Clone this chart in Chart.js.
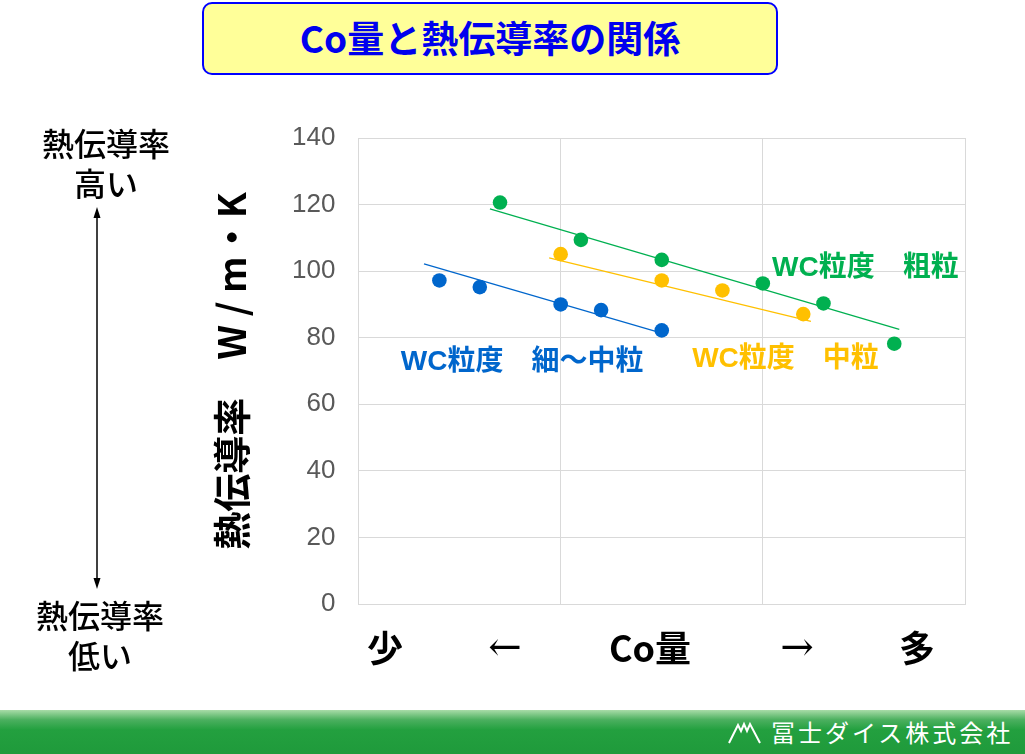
<!DOCTYPE html>
<html lang="ja">
<head>
<meta charset="utf-8">
<title>Co量と熱伝導率の関係</title>
<script src="https://cdn.jsdelivr.net/npm/chart.js@4.4.1/dist/chart.umd.min.js"></script>
<style>
  html, body {
    margin: 0;
    padding: 0;
    width: 1025px;
    height: 754px;
    overflow: hidden;
    background: #ffffff;
    font-family: "Liberation Sans", "Noto Sans CJK JP", sans-serif;
  }
  #chartBox {
    position: absolute;
    left: 0;
    top: 0;
    width: 1025px;
    height: 700px;
  }
  .titleBox {
    position: absolute;
    left: 202px;
    top: 2px;
    width: 576px;
    height: 73px;
    box-sizing: border-box;
    border: 2px solid #0000ff;
    border-radius: 10px;
    background: #ffff99;
    color: #0000ee;
    font-family: "Noto Sans CJK JP", sans-serif;
    font-weight: bold;
    font-size: 37px;
    line-height: 67px;
    text-align: center;
  }
  .side {
    position: absolute;
    width: 200px;
    text-align: center;
    font-family: "Noto Sans CJK JP", sans-serif;
    font-weight: 500;
    font-size: 32px;
    line-height: 40px;
    color: #000000;
  }
  .bottomLabel {
    position: absolute;
    top: 622px;
    transform: translateX(-50%);
    font-family: "Noto Sans CJK JP", sans-serif;
    font-weight: bold;
    font-size: 36px;
    line-height: 48px;
    color: #000000;
    white-space: nowrap;
  }
  .bottomLabel.arrow {
    font-family: "DejaVu Serif", serif;
    font-weight: normal;
    font-size: 40px;
  }
  .footer {
    position: absolute;
    left: 0;
    top: 710px;
    width: 1025px;
    height: 44px;
    background: linear-gradient(to bottom, #a8dca8 0%, #4cb060 22%, #23a03f 45%, #1f9a3b 100%);
  }
  .footer .company {
    position: absolute;
    left: 771px;
    top: 4px;
    font-family: "Noto Sans CJK JP", sans-serif;
    font-size: 24px;
    line-height: 36px;
    letter-spacing: 3px;
    color: #ffffff;
    white-space: nowrap;
  }
  svg.overlay {
    position: absolute;
    left: 0;
    top: 0;
    pointer-events: none;
  }
</style>
</head>
<body>

<div id="chartBox"><canvas id="coChart"></canvas></div>

<div class="titleBox">Co量と熱伝導率の関係</div>

<div class="side" style="left:6px; top:122px;">熱伝導率<br>高い</div>
<div class="side" style="left:0px; top:594px;">熱伝導率<br>低い</div>

<svg class="overlay" width="200" height="700">
  <line x1="97" y1="214" x2="97" y2="582" stroke="#000" stroke-width="1.5"/>
  <polygon points="97,207 93.5,218 100.5,218" fill="#000"/>
  <polygon points="97,589 93.5,578 100.5,578" fill="#000"/>
</svg>

<span class="bottomLabel" style="left:385px;">少</span>
<span class="bottomLabel arrow" style="left:505px;">←</span>
<span class="bottomLabel" style="left:650px;">Co量</span>
<span class="bottomLabel arrow" style="left:797px;">→</span>
<span class="bottomLabel" style="left:917px;">多</span>

<div class="footer">
  <svg class="overlay" width="1025" height="44">
    <polyline points="729,33 738,15 741,21 744,14 747,21 750,14 760,33"
      fill="none" stroke="#ffffff" stroke-width="2" stroke-linejoin="miter"/>
  </svg>
  <span class="company">冨士ダイス株式会社</span>
</div>

<script>
// Co amount (relative, 少 → 多) and thermal conductivity W/m・K
const seriesNames = ["WC粒度　細～中粒", "WC粒度　中粒", "WC粒度　粗粒"];
const seriesColors = ["#0066cc", "#ffc000", "#00b050"];

const fineCo = [0.4, 0.6, 1.0, 1.2, 1.5];
const fineK = [97.2, 95.2, 90.0, 88.3, 82.2];

const mediumCo = [1.0, 1.5, 1.8, 2.2];
const mediumK = [105.1, 97.2, 94.2, 87.1];

const coarseCo = [0.7, 1.1, 1.5, 2.0, 2.3, 2.65];
const coarseK = [120.6, 109.4, 103.4, 96.3, 90.3, 78.2];

// trend line end points
const fineTrendCo = [0.324, 1.5];
const fineTrendK = [102.2, 81.4];
const mediumTrendCo = [0.943, 2.238];
const mediumTrendK = [104.0, 84.9];
const coarseTrendCo = [0.65, 2.675];
const coarseTrendK = [118.7, 82.5];

const xTicks = [0, 1, 2, 3];
const yTicks = [0, 20, 40, 60, 80, 100, 120, 140];

const yTitle = "熱伝導率　W / m・K";

function toPoints(xs, ys) {
  return xs.map((x, i) => ({ x: x, y: ys[i] }));
}

function pointSet(label, xs, ys, color) {
  return {
    label: label,
    data: toPoints(xs, ys),
    showLine: false,
    pointRadius: 7.3,
    pointHoverRadius: 7.3,
    pointBorderWidth: 0,
    pointBackgroundColor: color,
    borderColor: color,
    order: 0,
  };
}

function trendSet(xs, ys, color) {
  return {
    label: "",
    data: toPoints(xs, ys),
    showLine: true,
    pointRadius: 0,
    borderWidth: 1.2,
    borderColor: color,
    fill: false,
    order: 1,
  };
}

// series names written inside the plot, anchored in data units
const seriesTags = {
  id: "seriesTags",
  afterDatasetsDraw(chart, args, opts) {
    const ctx = chart.ctx;
    const xs = chart.scales.x;
    const ys = chart.scales.y;
    ctx.save();
    ctx.font = opts.font;
    ctx.textAlign = "center";
    ctx.textBaseline = "middle";
    opts.items.forEach((item) => {
      ctx.fillStyle = item.color;
      ctx.fillText(item.text, xs.getPixelForValue(item.x), ys.getPixelForValue(item.y));
    });
    ctx.restore();
  },
};

const ctx = document.getElementById("coChart");
new Chart(ctx, {
  type: "scatter",
  data: {
    datasets: [
      pointSet(seriesNames[0], fineCo, fineK, seriesColors[0]),
      pointSet(seriesNames[1], mediumCo, mediumK, seriesColors[1]),
      pointSet(seriesNames[2], coarseCo, coarseK, seriesColors[2]),
      trendSet(fineTrendCo, fineTrendK, seriesColors[0]),
      trendSet(mediumTrendCo, mediumTrendK, seriesColors[1]),
      trendSet(coarseTrendCo, coarseTrendK, seriesColors[2]),
    ],
  },
  options: {
    responsive: true,
    maintainAspectRatio: false,
    animation: false,
    events: [],
    layout: {
      padding: { top: 138, right: 60, bottom: 96, left: 0 },
    },
    plugins: {
      legend: { display: false },
      tooltip: { enabled: false },
      seriesTags: {
        font: "bold 28px 'Liberation Sans', 'Noto Sans CJK JP', sans-serif",
        items: [
          { text: seriesNames[0], x: 0.809, y: 72.6, color: seriesColors[0] },
          { text: seriesNames[1], x: 2.112, y: 73.5, color: seriesColors[1] },
          { text: seriesNames[2], x: 2.507, y: 100.8, color: seriesColors[2] },
        ],
      },
    },
    scales: {
      x: {
        type: "linear",
        min: 0,
        max: 3,
        afterBuildTicks: (scale) => {
          scale.ticks = xTicks.map((v) => ({ value: v }));
        },
        afterFit: (scale) => {
          scale.height = 0;
        },
        ticks: { display: false },
        grid: { color: "#d9d9d9", lineWidth: 1, drawTicks: false },
        border: { display: true, color: "#d9d9d9" },
      },
      y: {
        type: "linear",
        min: 0,
        max: 140,
        afterBuildTicks: (scale) => {
          scale.ticks = yTicks.map((v) => ({ value: v }));
        },
        afterFit: (scale) => {
          scale.width = 358.5;
        },
        ticks: {
          color: "#595959",
          padding: 23,
          font: { family: "'Liberation Sans', sans-serif", size: 26 },
        },
        grid: { color: "#d9d9d9", lineWidth: 1, drawTicks: false },
        border: { display: true, color: "#d9d9d9" },
        title: {
          display: true,
          text: yTitle,
          color: "#000000",
          padding: { top: 209, bottom: 0 },
          font: { family: "'Noto Sans CJK JP', sans-serif", size: 38, weight: "bold", lineHeight: 1.2 },
        },
      },
    },
  },
  plugins: [seriesTags],
});
</script>
</body>
</html>
